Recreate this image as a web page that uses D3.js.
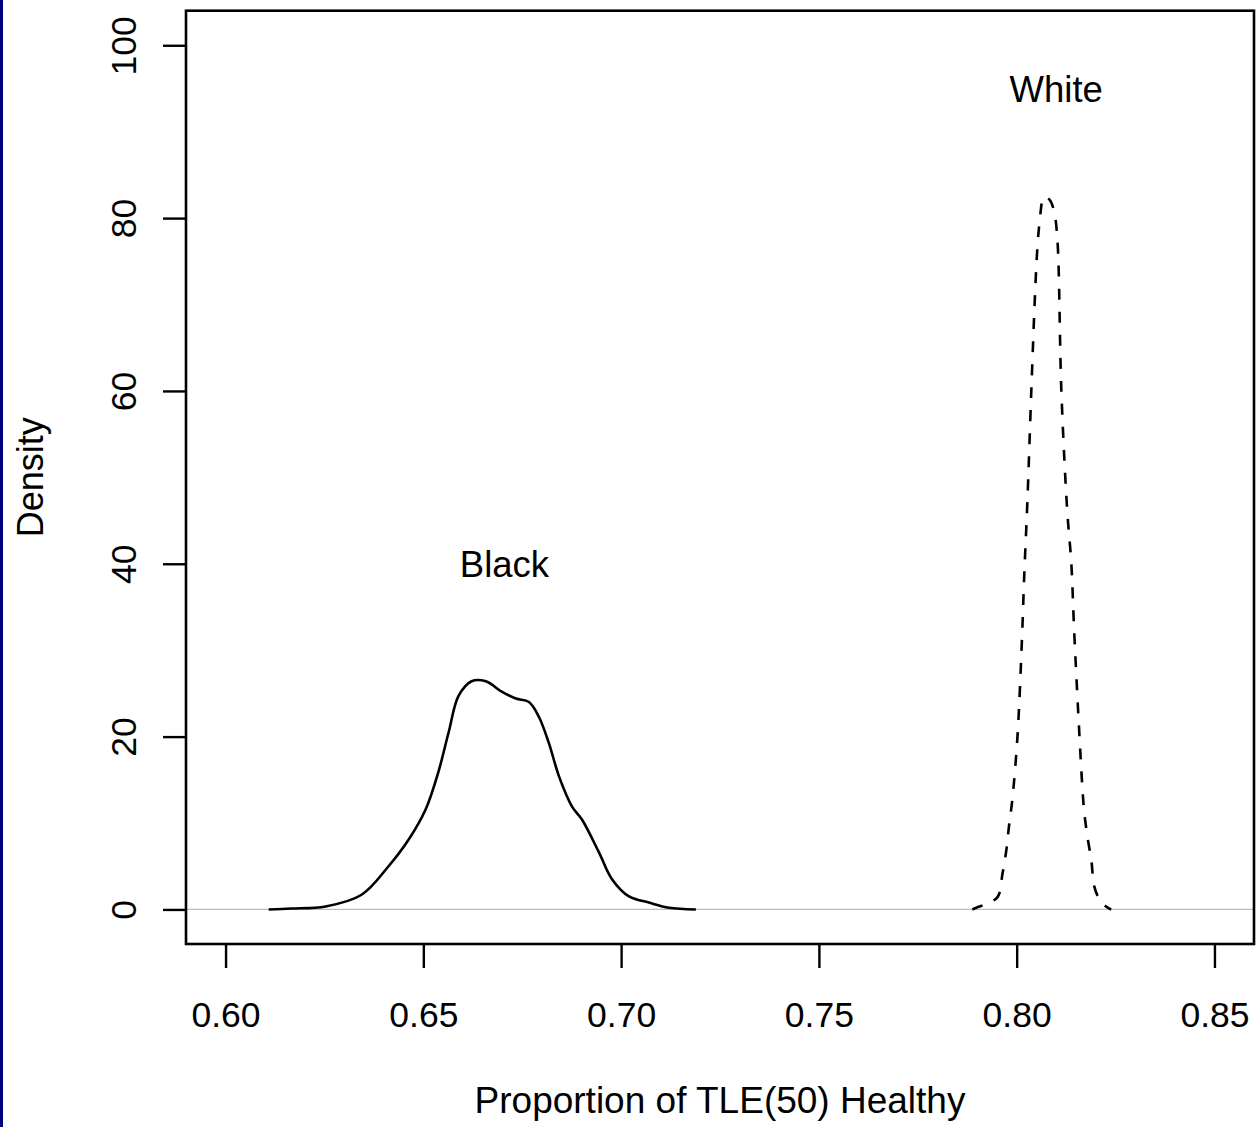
<!DOCTYPE html>
<html>
<head>
<meta charset="utf-8">
<script src="https://cdn.jsdelivr.net/npm/d3@7"></script>
<style>
  html, body { margin: 0; padding: 0; background: #fff; }
  svg { display: block; }
  text { font-family: "Liberation Sans", Arial, sans-serif; fill: #000; }
</style>
</head>
<body>
<svg id="chart" width="1257" height="1127"></svg>
<script>
// ---- data ----
const blackX = [0.6109, 0.6167, 0.6253, 0.6344, 0.6412, 0.6463, 0.6506, 0.6538, 0.6564, 0.6589, 0.6622, 0.6658, 0.6698, 0.6734, 0.6767, 0.6792, 0.6817, 0.6843, 0.6876, 0.6901, 0.6944, 0.6977, 0.7020, 0.7070, 0.7121, 0.7189];
const blackY = [0.0, 0.1, 0.35, 1.7, 5.0, 8.1, 11.6, 15.9, 20.5, 24.7, 26.4, 26.4, 25.2, 24.4, 24.0, 22.3, 19.3, 15.4, 11.9, 10.4, 6.6, 3.5, 1.5, 0.8, 0.2, 0.0];
const whiteX = [0.7888, 0.7898, 0.7951, 0.7964, 0.7974, 0.7981, 0.7989, 0.8002, 0.8014, 0.8019, 0.8027, 0.8037, 0.8047, 0.8053, 0.8060, 0.8066, 0.8072, 0.8085, 0.8095, 0.8103, 0.8113, 0.8128, 0.8138, 0.8146, 0.8166, 0.8171, 0.8179, 0.8189, 0.8196, 0.8209, 0.8227, 0.8239];
const whiteY = [0.0, 0.2, 1.4, 4.1, 6.9, 9.8, 12.7, 20, 32, 38.5, 47.1, 60, 71.8, 77.0, 80.5, 82.2, 82.5, 82.0, 80.7, 77.5, 60, 46, 40.2, 31.6, 14.2, 11.2, 8.4, 5.6, 2.7, 1.2, 0.3, 0.0];
const xTicks = [0.60, 0.65, 0.70, 0.75, 0.80, 0.85];
const xTickLabels = ["0.60", "0.65", "0.70", "0.75", "0.80", "0.85"];
const yTicks = [0, 20, 40, 60, 80, 100];
const yTickLabels = ["0", "20", "40", "60", "80", "100"];
const groupLabels = ["Black", "White"];
const groupLabelX = [0.6705, 0.810];
const groupLabelY = [40, 95];
const xTitle = "Proportion of TLE(50) Healthy";
const yTitle = "Density";

// ---- layout ----
const svg = d3.select("#chart");
const L = 186, R = 1254, T = 10.7, B = 944;
const x = d3.scaleLinear().domain([0.59, 0.86]).range([L, R]);
const y = d3.scaleLinear().domain([-4, 104]).range([B, T]);
const FS = 35.5;

// left navy strip
svg.append("rect").attr("x", 0).attr("y", 0).attr("width", 3).attr("height", 1127).attr("fill", "#00007e");

// zero reference line
svg.append("line")
  .attr("x1", L).attr("x2", R).attr("y1", y(0)).attr("y2", y(0))
  .attr("stroke", "#bdbdbd").attr("stroke-width", 1.2);

const line = d3.line().x(d => x(d[0])).y(d => y(d[1])).curve(d3.curveCatmullRom.alpha(0.5));

svg.append("path")
  .datum(d3.zip(blackX, blackY))
  .attr("d", line)
  .attr("fill", "none").attr("stroke", "#000").attr("stroke-width", 2.6)
  .attr("stroke-linejoin", "round");

svg.append("path")
  .datum(d3.zip(whiteX, whiteY))
  .attr("d", line)
  .attr("fill", "none").attr("stroke", "#000").attr("stroke-width", 2.6)
  .attr("stroke-dasharray", "11,12");

// box
svg.append("rect")
  .attr("x", L).attr("y", T).attr("width", R - L).attr("height", B - T)
  .attr("fill", "none").attr("stroke", "#000").attr("stroke-width", 2.6);

// x axis
const xAxis = d3.axisBottom(x).tickValues(xTicks)
  .tickFormat((d, i) => xTickLabels[i]).tickSize(24).tickSizeOuter(0);
const gx = svg.append("g").attr("transform", `translate(0,${B})`).call(xAxis);
gx.select(".domain").remove();
gx.selectAll(".tick line").attr("stroke", "#000").attr("stroke-width", 2.4);
gx.selectAll(".tick text")
  .attr("y", 83).attr("dy", 0)
  .attr("font-size", FS).attr("font-family", "Liberation Sans, Arial, sans-serif");

// y axis
const yAxis = d3.axisLeft(y).tickValues(yTicks)
  .tickFormat((d, i) => yTickLabels[i]).tickSize(23).tickSizeOuter(0);
const gy = svg.append("g").attr("transform", `translate(${L},0)`).call(yAxis);
gy.select(".domain").remove();
gy.selectAll(".tick line").attr("stroke", "#000").attr("stroke-width", 2.4);
gy.selectAll(".tick text")
  .attr("x", 0).attr("y", 0).attr("dy", 0)
  .attr("text-anchor", "middle")
  .attr("transform", "translate(-50,0) rotate(-90)")
  .attr("font-size", FS).attr("font-family", "Liberation Sans, Arial, sans-serif");

// group labels
groupLabels.forEach((lab, i) => {
  svg.append("text")
    .attr("x", x(groupLabelX[i])).attr("y", y(groupLabelY[i]))
    .attr("dy", "0.36em")
    .attr("text-anchor", "middle").attr("font-size", 36.5)
    .text(lab);
});

// axis titles
svg.append("text")
  .attr("x", (L + R) / 2).attr("y", 1113)
  .attr("text-anchor", "middle").attr("font-size", 37)
  .text(xTitle);

svg.append("text")
  .attr("transform", `translate(43,${(T + B) / 2}) rotate(-90)`)
  .attr("text-anchor", "middle").attr("font-size", 36)
  .text(yTitle);
</script>
</body>
</html>
